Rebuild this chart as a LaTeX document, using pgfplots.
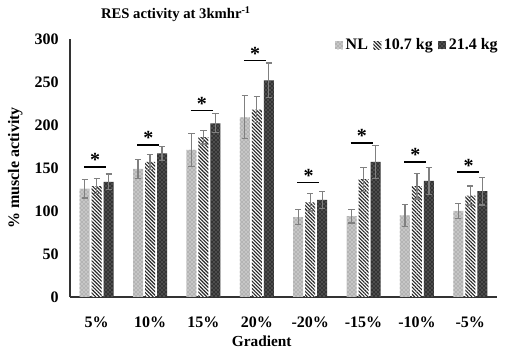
\documentclass[border=0pt]{standalone}
\usepackage{pgfplots}
\pgfplotsset{compat=1.18}
\usepackage{pgfplotstable}
\usetikzlibrary{patterns,patterns.meta}
\usepackage{fontspec}
\setmainfont{Liberation Serif}
\pgfplotstableread{
x nl nle mid mide hi hie
0 126 11 129 9 134 9
1 149 11 157 9 167 8
2 171 19 186 8 202 11
3 209 25 218 15 252 20
4 93 8.5 110 10 113 10
5 94 8 137 14 157 19
6 95 13 129 15 135 16
7 100 9 118 11 123 16
}\data
\begin{document}
\begin{tikzpicture}
\begin{axis}[
 at={(0,0)}, anchor=south west,
 scale only axis, width=320.25pt, height=193.5pt,
 xmin=-0.5, xmax=7.5, ymin=0, ymax=300,
 ytick={0,50,...,300},
 xtick={0,...,7}, xticklabels={5\%,10\%,15\%,20\%,-20\%,-15\%,-10\%,-5\%},
 major tick length=0pt,
 axis x line*=bottom, axis y line*=left,
 axis line style={black!80, line width=1pt},
 ybar=1.5pt, bar width=7.5pt,
 /pgf/number format/assume math mode=true,
 tick label style={font=\fontsize{12}{14}\selectfont\bfseries},
 xticklabel style={yshift=-11pt},
 yticklabel style={xshift=-5pt},
 ylabel={\% muscle activity},
 ylabel style={at={(axis description cs:-0.128,0.5)}, anchor=center, font=\fontsize{12}{14}\selectfont\bfseries},
 xlabel={Gradient},
 xlabel style={at={(axis description cs:0.449,-0.1705)}, anchor=center, font=\fontsize{11.5}{13}\selectfont\bfseries},
 legend style={at={(axis description cs:1.018,1.023)}, anchor=north east, draw=none, fill=none,
   legend columns=3, font=\fontsize{12}{14}\selectfont\bfseries,
   /tikz/every even column/.append style={column sep=2pt}},
 legend image code/.code={\draw[#1, draw=none] (0pt,-3pt) rectangle (6pt,3pt);},
 error bars/error bar style={gray, line width=0.9pt},
 error bars/error mark options={rotate=90, gray, mark size=2.3pt, line width=0.9pt},
 clip=false,
]
\addplot[draw=none, fill=gray!45, postaction={pattern=crosshatch dots, pattern color=gray!95!black},
  error bars/.cd, y dir=both, y explicit]
  table[x=x, y=nl, y error=nle]{\data};
\addlegendentry{NL}
\addplot[draw=none, fill=white, postaction={pattern={Lines[angle=-45, distance=1.9pt, line width=0.85pt]}, pattern color=black!85},
  error bars/.cd, y dir=both, y explicit]
  table[x=x, y=mid, y error=mide]{\data};
\addlegendentry{10.7 kg}
\addplot[draw=none, fill=black!80, postaction={pattern=crosshatch dots, pattern color=gray!70},
  error bars/.cd, y dir=both, y explicit]
  table[x=x, y=hi, y error=hie]{\data};
\addlegendentry{21.4 kg}
\addplot[sharp plot, black, line width=1.2pt, forget plot, mark=none, unbounded coords=jump]
 coordinates {(-0.24,151) (0.17,151) (0.5,nan)
 (0.76,177) (1.17,177) (1.5,nan)
 (1.76,217) (2.17,217) (2.5,nan)
 (2.76,275) (3.17,275) (3.5,nan)
 (3.76,133) (4.17,133) (4.5,nan)
 (4.76,179) (5.17,179) (5.5,nan)
 (5.76,157) (6.17,157) (6.5,nan)
 (6.76,145) (7.17,145)};
\foreach \i/\v in {0/151,1/177,2/217,3/275,4/133,5/179,6/157,7/145}{
 \edef\tmp{\noexpand\node[font=\noexpand\fontsize{15}{15}\noexpand\selectfont\noexpand\bfseries, anchor=south, inner sep=0pt] at (axis cs:\i-0.03,\v) {*};}
 \tmp
}
\node[font=\fontsize{11}{13}\selectfont\bfseries] at (axis description cs:0.248,1.097) {RES activity at 3kmhr\textsuperscript{-1}};
\end{axis}
\pgfresetboundingbox
\path[use as bounding box] (-52.5pt,-38.25pt) rectangle (327pt,222.75pt);
\end{tikzpicture}
\end{document}
